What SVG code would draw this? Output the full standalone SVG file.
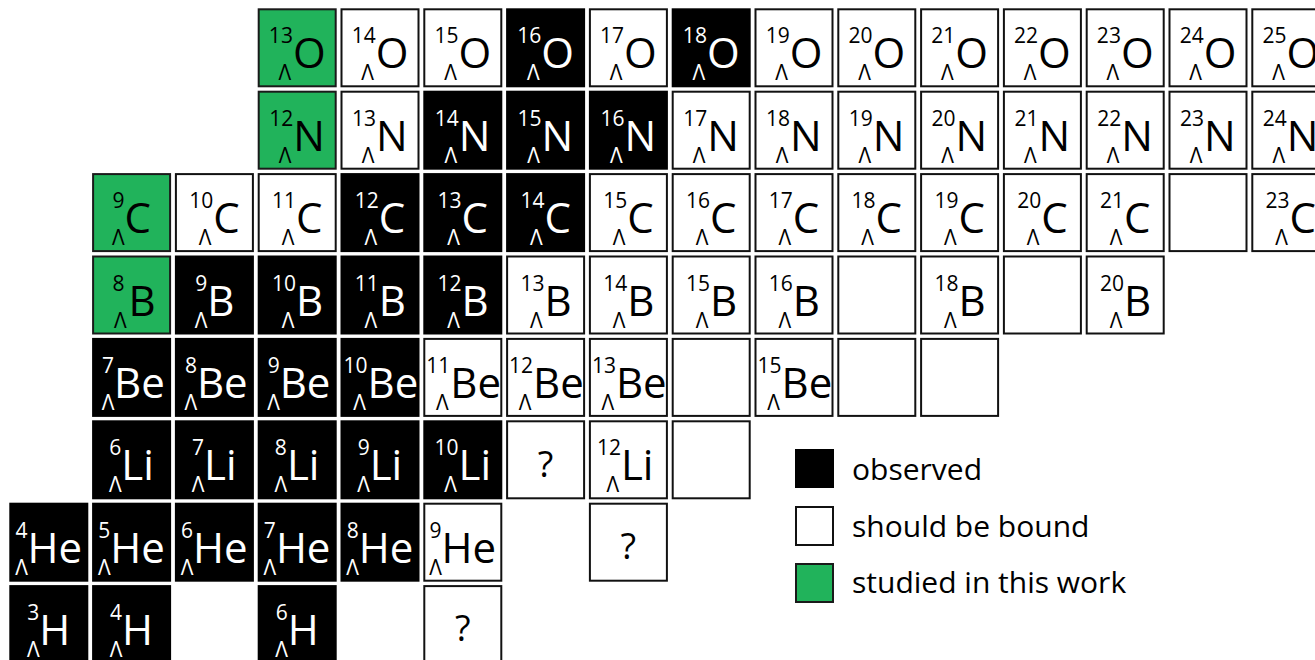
<svg xmlns="http://www.w3.org/2000/svg" width="1315" height="660" viewBox="0 0 1315 660">
<style>
  rect { stroke-width: 2; }
  .k rect { fill: #000; stroke: #000; }
  .w rect { fill: #fff; stroke: #111; }
  .g rect { fill: #21b35b; stroke: #1a1a1a; }
  text { font-family: "Open Sans", "DejaVu Sans", sans-serif; fill: #000; }
  .k text { fill: #fff; }
  .m { font-size: 21px; text-anchor: end; }
  .s { font-size: 42px; }
  .l { font-size: 21px; text-anchor: middle; }
  .q { font-size: 36px; text-anchor: middle; }
  .lg { font-size: 30px; }
</style>

<!-- oxygen row -->
<g id="O13" class="g" transform="translate(257.7,8.3)"><rect x="1" y="1" width="77" height="77"/><text class="m" x="35.2" y="35">13</text><text class="s" x="35.2" y="60">O</text><text class="l" x="27.2" y="72">Λ</text></g>
<g id="O14" class="w" transform="translate(340.5,8.3)"><rect x="1" y="1" width="77" height="77"/><text class="m" x="35.2" y="35">14</text><text class="s" x="35.2" y="60">O</text><text class="l" x="27.2" y="72">Λ</text></g>
<g id="O15" class="w" transform="translate(423.3,8.3)"><rect x="1" y="1" width="77" height="77"/><text class="m" x="35.2" y="35">15</text><text class="s" x="35.2" y="60">O</text><text class="l" x="27.2" y="72">Λ</text></g>
<g id="O16" class="k" transform="translate(506.1,8.3)"><rect x="1" y="1" width="77" height="77"/><text class="m" x="35.2" y="35">16</text><text class="s" x="35.2" y="60">O</text><text class="l" x="27.2" y="72">Λ</text></g>
<g id="O17" class="w" transform="translate(588.9,8.3)"><rect x="1" y="1" width="77" height="77"/><text class="m" x="35.2" y="35">17</text><text class="s" x="35.2" y="60">O</text><text class="l" x="27.2" y="72">Λ</text></g>
<g id="O18" class="k" transform="translate(671.7,8.3)"><rect x="1" y="1" width="77" height="77"/><text class="m" x="35.2" y="35">18</text><text class="s" x="35.2" y="60">O</text><text class="l" x="27.2" y="72">Λ</text></g>
<g id="O19" class="w" transform="translate(754.5,8.3)"><rect x="1" y="1" width="77" height="77"/><text class="m" x="35.2" y="35">19</text><text class="s" x="35.2" y="60">O</text><text class="l" x="27.2" y="72">Λ</text></g>
<g id="O20" class="w" transform="translate(837.3,8.3)"><rect x="1" y="1" width="77" height="77"/><text class="m" x="35.2" y="35">20</text><text class="s" x="35.2" y="60">O</text><text class="l" x="27.2" y="72">Λ</text></g>
<g id="O21" class="w" transform="translate(920.1,8.3)"><rect x="1" y="1" width="77" height="77"/><text class="m" x="35.2" y="35">21</text><text class="s" x="35.2" y="60">O</text><text class="l" x="27.2" y="72">Λ</text></g>
<g id="O22" class="w" transform="translate(1002.9,8.3)"><rect x="1" y="1" width="77" height="77"/><text class="m" x="35.2" y="35">22</text><text class="s" x="35.2" y="60">O</text><text class="l" x="27.2" y="72">Λ</text></g>
<g id="O23" class="w" transform="translate(1085.7,8.3)"><rect x="1" y="1" width="77" height="77"/><text class="m" x="35.2" y="35">23</text><text class="s" x="35.2" y="60">O</text><text class="l" x="27.2" y="72">Λ</text></g>
<g id="O24" class="w" transform="translate(1168.5,8.3)"><rect x="1" y="1" width="77" height="77"/><text class="m" x="35.2" y="35">24</text><text class="s" x="35.2" y="60">O</text><text class="l" x="27.2" y="72">Λ</text></g>
<g id="O25" class="w" transform="translate(1251.3,8.3)"><rect x="1" y="1" width="77" height="77"/><text class="m" x="35.2" y="35">25</text><text class="s" x="35.2" y="60">O</text><text class="l" x="27.2" y="72">Λ</text></g>

<!-- nitrogen row -->
<g id="N12" class="g" transform="translate(257.7,90.7)"><rect x="1" y="1" width="77" height="77"/><text class="m" x="35.5" y="35">12</text><text class="s" x="35.5" y="60">N</text><text class="l" x="27.5" y="72">Λ</text></g>
<g id="N13" class="w" transform="translate(340.5,90.7)"><rect x="1" y="1" width="77" height="77"/><text class="m" x="35.5" y="35">13</text><text class="s" x="35.5" y="60">N</text><text class="l" x="27.5" y="72">Λ</text></g>
<g id="N14" class="k" transform="translate(423.3,90.7)"><rect x="1" y="1" width="77" height="77"/><text class="m" x="35.5" y="35">14</text><text class="s" x="35.5" y="60">N</text><text class="l" x="27.5" y="72">Λ</text></g>
<g id="N15" class="k" transform="translate(506.1,90.7)"><rect x="1" y="1" width="77" height="77"/><text class="m" x="35.5" y="35">15</text><text class="s" x="35.5" y="60">N</text><text class="l" x="27.5" y="72">Λ</text></g>
<g id="N16" class="k" transform="translate(588.9,90.7)"><rect x="1" y="1" width="77" height="77"/><text class="m" x="35.5" y="35">16</text><text class="s" x="35.5" y="60">N</text><text class="l" x="27.5" y="72">Λ</text></g>
<g id="N17" class="w" transform="translate(671.7,90.7)"><rect x="1" y="1" width="77" height="77"/><text class="m" x="35.5" y="35">17</text><text class="s" x="35.5" y="60">N</text><text class="l" x="27.5" y="72">Λ</text></g>
<g id="N18" class="w" transform="translate(754.5,90.7)"><rect x="1" y="1" width="77" height="77"/><text class="m" x="35.5" y="35">18</text><text class="s" x="35.5" y="60">N</text><text class="l" x="27.5" y="72">Λ</text></g>
<g id="N19" class="w" transform="translate(837.3,90.7)"><rect x="1" y="1" width="77" height="77"/><text class="m" x="35.5" y="35">19</text><text class="s" x="35.5" y="60">N</text><text class="l" x="27.5" y="72">Λ</text></g>
<g id="N20" class="w" transform="translate(920.1,90.7)"><rect x="1" y="1" width="77" height="77"/><text class="m" x="35.5" y="35">20</text><text class="s" x="35.5" y="60">N</text><text class="l" x="27.5" y="72">Λ</text></g>
<g id="N21" class="w" transform="translate(1002.9,90.7)"><rect x="1" y="1" width="77" height="77"/><text class="m" x="35.5" y="35">21</text><text class="s" x="35.5" y="60">N</text><text class="l" x="27.5" y="72">Λ</text></g>
<g id="N22" class="w" transform="translate(1085.7,90.7)"><rect x="1" y="1" width="77" height="77"/><text class="m" x="35.5" y="35">22</text><text class="s" x="35.5" y="60">N</text><text class="l" x="27.5" y="72">Λ</text></g>
<g id="N23" class="w" transform="translate(1168.5,90.7)"><rect x="1" y="1" width="77" height="77"/><text class="m" x="35.5" y="35">23</text><text class="s" x="35.5" y="60">N</text><text class="l" x="27.5" y="72">Λ</text></g>
<g id="N24" class="w" transform="translate(1251.3,90.7)"><rect x="1" y="1" width="77" height="77"/><text class="m" x="35.5" y="35">24</text><text class="s" x="35.5" y="60">N</text><text class="l" x="27.5" y="72">Λ</text></g>

<!-- carbon row -->
<g id="C9" class="g" transform="translate(92.1,173.1)"><rect x="1" y="1" width="77" height="77"/><text class="m" x="32.3" y="35">9</text><text class="s" x="32.3" y="60">C</text><text class="l" x="26.3" y="72">Λ</text></g>
<g id="C10" class="w" transform="translate(174.9,173.1)"><rect x="1" y="1" width="77" height="77"/><text class="m" x="38.3" y="35">10</text><text class="s" x="38.3" y="60">C</text><text class="l" x="30.3" y="72">Λ</text></g>
<g id="C11" class="w" transform="translate(257.7,173.1)"><rect x="1" y="1" width="77" height="77"/><text class="m" x="38.3" y="35">11</text><text class="s" x="38.3" y="60">C</text><text class="l" x="30.3" y="72">Λ</text></g>
<g id="C12" class="k" transform="translate(340.5,173.1)"><rect x="1" y="1" width="77" height="77"/><text class="m" x="38.3" y="35">12</text><text class="s" x="38.3" y="60">C</text><text class="l" x="30.3" y="72">Λ</text></g>
<g id="C13" class="k" transform="translate(423.3,173.1)"><rect x="1" y="1" width="77" height="77"/><text class="m" x="38.3" y="35">13</text><text class="s" x="38.3" y="60">C</text><text class="l" x="30.3" y="72">Λ</text></g>
<g id="C14" class="k" transform="translate(506.1,173.1)"><rect x="1" y="1" width="77" height="77"/><text class="m" x="38.3" y="35">14</text><text class="s" x="38.3" y="60">C</text><text class="l" x="30.3" y="72">Λ</text></g>
<g id="C15" class="w" transform="translate(588.9,173.1)"><rect x="1" y="1" width="77" height="77"/><text class="m" x="38.3" y="35">15</text><text class="s" x="38.3" y="60">C</text><text class="l" x="30.3" y="72">Λ</text></g>
<g id="C16" class="w" transform="translate(671.7,173.1)"><rect x="1" y="1" width="77" height="77"/><text class="m" x="38.3" y="35">16</text><text class="s" x="38.3" y="60">C</text><text class="l" x="30.3" y="72">Λ</text></g>
<g id="C17" class="w" transform="translate(754.5,173.1)"><rect x="1" y="1" width="77" height="77"/><text class="m" x="38.3" y="35">17</text><text class="s" x="38.3" y="60">C</text><text class="l" x="30.3" y="72">Λ</text></g>
<g id="C18" class="w" transform="translate(837.3,173.1)"><rect x="1" y="1" width="77" height="77"/><text class="m" x="38.3" y="35">18</text><text class="s" x="38.3" y="60">C</text><text class="l" x="30.3" y="72">Λ</text></g>
<g id="C19" class="w" transform="translate(920.1,173.1)"><rect x="1" y="1" width="77" height="77"/><text class="m" x="38.3" y="35">19</text><text class="s" x="38.3" y="60">C</text><text class="l" x="30.3" y="72">Λ</text></g>
<g id="C20" class="w" transform="translate(1002.9,173.1)"><rect x="1" y="1" width="77" height="77"/><text class="m" x="38.3" y="35">20</text><text class="s" x="38.3" y="60">C</text><text class="l" x="30.3" y="72">Λ</text></g>
<g id="C21" class="w" transform="translate(1085.7,173.1)"><rect x="1" y="1" width="77" height="77"/><text class="m" x="38.3" y="35">21</text><text class="s" x="38.3" y="60">C</text><text class="l" x="30.3" y="72">Λ</text></g>
<g id="C22" class="w" transform="translate(1168.5,173.1)"><rect x="1" y="1" width="77" height="77"/></g>
<g id="C23" class="w" transform="translate(1251.3,173.1)"><rect x="1" y="1" width="77" height="77"/><text class="m" x="38.3" y="35">23</text><text class="s" x="38.3" y="60">C</text><text class="l" x="30.3" y="72">Λ</text></g>

<!-- boron row -->
<g id="B8" class="g" transform="translate(92.1,255.5)"><rect x="1" y="1" width="77" height="77"/><text class="m" x="32.3" y="35">8</text><text class="s" x="36.3" y="60">B</text><text class="l" x="28.3" y="72">Λ</text></g>
<g id="B9" class="k" transform="translate(174.9,255.5)"><rect x="1" y="1" width="77" height="77"/><text class="m" x="32.3" y="35">9</text><text class="s" x="32.3" y="60">B</text><text class="l" x="26.3" y="72">Λ</text></g>
<g id="B10" class="k" transform="translate(257.7,255.5)"><rect x="1" y="1" width="77" height="77"/><text class="m" x="38.3" y="35">10</text><text class="s" x="38.3" y="60">B</text><text class="l" x="30.3" y="72">Λ</text></g>
<g id="B11" class="k" transform="translate(340.5,255.5)"><rect x="1" y="1" width="77" height="77"/><text class="m" x="38.3" y="35">11</text><text class="s" x="38.3" y="60">B</text><text class="l" x="30.3" y="72">Λ</text></g>
<g id="B12" class="k" transform="translate(423.3,255.5)"><rect x="1" y="1" width="77" height="77"/><text class="m" x="38.3" y="35">12</text><text class="s" x="38.3" y="60">B</text><text class="l" x="30.3" y="72">Λ</text></g>
<g id="B13" class="w" transform="translate(506.1,255.5)"><rect x="1" y="1" width="77" height="77"/><text class="m" x="38.3" y="35">13</text><text class="s" x="38.3" y="60">B</text><text class="l" x="30.3" y="72">Λ</text></g>
<g id="B14" class="w" transform="translate(588.9,255.5)"><rect x="1" y="1" width="77" height="77"/><text class="m" x="38.3" y="35">14</text><text class="s" x="38.3" y="60">B</text><text class="l" x="30.3" y="72">Λ</text></g>
<g id="B15" class="w" transform="translate(671.7,255.5)"><rect x="1" y="1" width="77" height="77"/><text class="m" x="38.3" y="35">15</text><text class="s" x="38.3" y="60">B</text><text class="l" x="30.3" y="72">Λ</text></g>
<g id="B16" class="w" transform="translate(754.5,255.5)"><rect x="1" y="1" width="77" height="77"/><text class="m" x="38.3" y="35">16</text><text class="s" x="38.3" y="60">B</text><text class="l" x="30.3" y="72">Λ</text></g>
<g id="B17" class="w" transform="translate(837.3,255.5)"><rect x="1" y="1" width="77" height="77"/></g>
<g id="B18" class="w" transform="translate(920.1,255.5)"><rect x="1" y="1" width="77" height="77"/><text class="m" x="38.3" y="35">18</text><text class="s" x="38.3" y="60">B</text><text class="l" x="30.3" y="72">Λ</text></g>
<g id="B19" class="w" transform="translate(1002.9,255.5)"><rect x="1" y="1" width="77" height="77"/></g>
<g id="B20" class="w" transform="translate(1085.7,255.5)"><rect x="1" y="1" width="77" height="77"/><text class="m" x="38.3" y="35">20</text><text class="s" x="38.3" y="60">B</text><text class="l" x="30.3" y="72">Λ</text></g>

<!-- beryllium row -->
<g id="Be7" class="k" transform="translate(92.1,337.9)"><rect x="1" y="1" width="77" height="77"/><text class="m" x="22" y="35">7</text><text class="s" x="22" y="60">Be</text><text class="l" x="16" y="72">Λ</text></g>
<g id="Be8" class="k" transform="translate(174.9,337.9)"><rect x="1" y="1" width="77" height="77"/><text class="m" x="22" y="35">8</text><text class="s" x="22" y="60">Be</text><text class="l" x="16" y="72">Λ</text></g>
<g id="Be9" class="k" transform="translate(257.7,337.9)"><rect x="1" y="1" width="77" height="77"/><text class="m" x="22" y="35">9</text><text class="s" x="22" y="60">Be</text><text class="l" x="16" y="72">Λ</text></g>
<g id="Be10" class="k" transform="translate(340.5,337.9)"><rect x="1" y="1" width="77" height="77"/><text class="m" x="27" y="35">10</text><text class="s" x="27" y="60">Be</text><text class="l" x="19" y="72">Λ</text></g>
<g id="Be11" class="w" transform="translate(423.3,337.9)"><rect x="1" y="1" width="77" height="77"/><text class="m" x="27" y="35">11</text><text class="s" x="27" y="60">Be</text><text class="l" x="19" y="72">Λ</text></g>
<g id="Be12" class="w" transform="translate(506.1,337.9)"><rect x="1" y="1" width="77" height="77"/><text class="m" x="27" y="35">12</text><text class="s" x="27" y="60">Be</text><text class="l" x="19" y="72">Λ</text></g>
<g id="Be13" class="w" transform="translate(588.9,337.9)"><rect x="1" y="1" width="77" height="77"/><text class="m" x="27" y="35">13</text><text class="s" x="27" y="60">Be</text><text class="l" x="19" y="72">Λ</text></g>
<g id="Be14" class="w" transform="translate(671.7,337.9)"><rect x="1" y="1" width="77" height="77"/></g>
<g id="Be15" class="w" transform="translate(754.5,337.9)"><rect x="1" y="1" width="77" height="77"/><text class="m" x="27" y="35">15</text><text class="s" x="27" y="60">Be</text><text class="l" x="19" y="72">Λ</text></g>
<g id="Be16" class="w" transform="translate(837.3,337.9)"><rect x="1" y="1" width="77" height="77"/></g>
<g id="Be17" class="w" transform="translate(920.1,337.9)"><rect x="1" y="1" width="77" height="77"/></g>

<!-- lithium row -->
<g id="Li6" class="k" transform="translate(92.1,420.3)"><rect x="1" y="1" width="77" height="77"/><text class="m" x="29.2" y="35">6</text><text class="s" x="29.2" y="60">Li</text><text class="l" x="23.2" y="72">Λ</text></g>
<g id="Li7" class="k" transform="translate(174.9,420.3)"><rect x="1" y="1" width="77" height="77"/><text class="m" x="29.2" y="35">7</text><text class="s" x="29.2" y="60">Li</text><text class="l" x="23.2" y="72">Λ</text></g>
<g id="Li8" class="k" transform="translate(257.7,420.3)"><rect x="1" y="1" width="77" height="77"/><text class="m" x="29.2" y="35">8</text><text class="s" x="29.2" y="60">Li</text><text class="l" x="23.2" y="72">Λ</text></g>
<g id="Li9" class="k" transform="translate(340.5,420.3)"><rect x="1" y="1" width="77" height="77"/><text class="m" x="29.2" y="35">9</text><text class="s" x="29.2" y="60">Li</text><text class="l" x="23.2" y="72">Λ</text></g>
<g id="Li10" class="k" transform="translate(423.3,420.3)"><rect x="1" y="1" width="77" height="77"/><text class="m" x="35.2" y="35">10</text><text class="s" x="35.2" y="60">Li</text><text class="l" x="27.2" y="72">Λ</text></g>
<g id="Li11" class="w" transform="translate(506.1,420.3)"><rect x="1" y="1" width="77" height="77"/><text class="q" x="39.5" y="57">?</text></g>
<g id="Li12" class="w" transform="translate(588.9,420.3)"><rect x="1" y="1" width="77" height="77"/><text class="m" x="32" y="35">12</text><text class="s" x="32" y="60">Li</text><text class="l" x="24" y="72">Λ</text></g>
<g id="Li13" class="w" transform="translate(671.7,420.3)"><rect x="1" y="1" width="77" height="77"/></g>

<!-- helium row -->
<g id="He4" class="k" transform="translate(9.3,502.7)"><rect x="1" y="1" width="77" height="77"/><text class="m" x="18.2" y="35">4</text><text class="s" x="18.2" y="60">He</text><text class="l" x="12.2" y="72">Λ</text></g>
<g id="He5" class="k" transform="translate(92.1,502.7)"><rect x="1" y="1" width="77" height="77"/><text class="m" x="18.2" y="35">5</text><text class="s" x="18.2" y="60">He</text><text class="l" x="12.2" y="72">Λ</text></g>
<g id="He6" class="k" transform="translate(174.9,502.7)"><rect x="1" y="1" width="77" height="77"/><text class="m" x="18.2" y="35">6</text><text class="s" x="18.2" y="60">He</text><text class="l" x="12.2" y="72">Λ</text></g>
<g id="He7" class="k" transform="translate(257.7,502.7)"><rect x="1" y="1" width="77" height="77"/><text class="m" x="18.2" y="35">7</text><text class="s" x="18.2" y="60">He</text><text class="l" x="12.2" y="72">Λ</text></g>
<g id="He8" class="k" transform="translate(340.5,502.7)"><rect x="1" y="1" width="77" height="77"/><text class="m" x="18.2" y="35">8</text><text class="s" x="18.2" y="60">He</text><text class="l" x="12.2" y="72">Λ</text></g>
<g id="He9" class="w" transform="translate(423.3,502.7)"><rect x="1" y="1" width="77" height="77"/><text class="m" x="18.2" y="35">9</text><text class="s" x="18.2" y="60">He</text><text class="l" x="12.2" y="72">Λ</text></g>
<g id="He11" class="w" transform="translate(588.9,502.7)"><rect x="1" y="1" width="77" height="77"/><text class="q" x="39.5" y="56">?</text></g>

<!-- hydrogen row -->
<g id="H3" class="k" transform="translate(9.3,585.1)"><rect x="1" y="1" width="77" height="77"/><text class="m" x="30" y="35">3</text><text class="s" x="30" y="60">H</text><text class="l" x="24" y="72">Λ</text></g>
<g id="H4" class="k" transform="translate(92.1,585.1)"><rect x="1" y="1" width="77" height="77"/><text class="m" x="30" y="35">4</text><text class="s" x="30" y="60">H</text><text class="l" x="24" y="72">Λ</text></g>
<g id="H6" class="k" transform="translate(257.7,585.1)"><rect x="1" y="1" width="77" height="77"/><text class="m" x="30" y="35">6</text><text class="s" x="30" y="60">H</text><text class="l" x="24" y="72">Λ</text></g>
<g id="H8" class="w" transform="translate(423.3,585.1)"><rect x="1" y="1" width="77" height="77"/><text class="q" x="39.5" y="56">?</text></g>

<!-- legend -->
<g id="legend">
  <g class="k"><rect x="796" y="450" width="37" height="37"/></g>
  <text class="lg" x="852" y="480">observed</text>
  <g class="w"><rect x="796" y="507" width="37" height="38"/></g>
  <text class="lg" x="852" y="537">should be bound</text>
  <g class="g"><rect x="796" y="564" width="37" height="38"/></g>
  <text class="lg" x="852" y="593">studied in this work</text>
</g>
</svg>
